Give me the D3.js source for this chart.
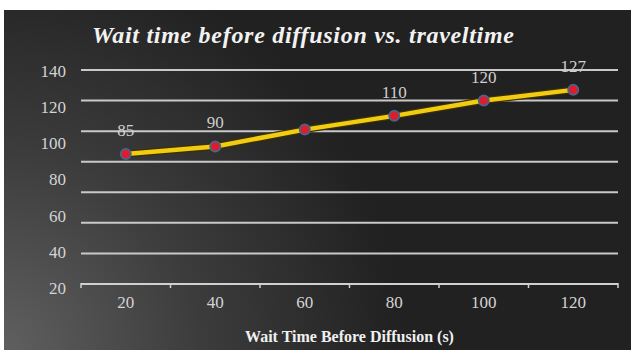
<!DOCTYPE html>
<html>
<head>
<meta charset="utf-8">
<script src="https://cdn.jsdelivr.net/npm/d3@7"></script>
<style>
  html, body { margin: 0; padding: 0; background: #ffffff; }
  svg { display: block; }
</style>
</head>
<body>
<svg id="chart" width="631" height="350"></svg>
<script>
// Wait time before diffusion (s) and the resulting travel time
const waitTimes = [20, 40, 60, 80, 100, 120];
const travelTimes = [85, 90, 101, 110, 120, 127];
const showValueLabel = [true, true, false, true, true, true];
const yTickLabels = ["140", "120", "100", "80", "60", "40", "20"];
const gridValues = [20, 40, 60, 80, 100, 120, 140];

const titleText = "Wait time before diffusion vs. traveltime";
const xTitleText = "Wait Time Before Diffusion (s)";

const W = 631, H = 350;
const plot = { left: 81, right: 618, top: 70, bottom: 284 };
const serif = "'Liberation Serif', 'Times New Roman', serif";

const svg = d3.select("#chart");

// Panel background: dark, lifting to grey towards the lower left
const defs = svg.append("defs");
const grad = defs.append("radialGradient")
  .attr("id", "bg")
  .attr("gradientUnits", "userSpaceOnUse")
  .attr("cx", 0).attr("cy", H).attr("r", 400);
grad.append("stop").attr("offset", "0%").attr("stop-color", "#606060");
grad.append("stop").attr("offset", "50%").attr("stop-color", "#3c3c3c");
grad.append("stop").attr("offset", "100%").attr("stop-color", "#212121");

svg.append("rect")
  .attr("x", 4).attr("y", 10)
  .attr("width", W - 4).attr("height", H - 10)
  .attr("fill", "url(#bg)");

// Scales
const x = d3.scaleBand()
  .domain(waitTimes)
  .range([plot.left, plot.right])
  .paddingInner(0).paddingOuter(0);

const y = d3.scaleLinear()
  .domain([0, 140])
  .range([plot.bottom, plot.top]);

// Tick labels on the value axis sit on their own even spacing
const yLabelPos = d3.scalePoint()
  .domain(yTickLabels)
  .range([71, 288]);

// Horizontal gridlines
svg.append("g")
  .selectAll("line")
  .data(gridValues)
  .join("line")
  .attr("x1", plot.left).attr("x2", plot.right)
  .attr("y1", d => y(d)).attr("y2", d => y(d))
  .attr("stroke", "#c9c9c9")
  .attr("stroke-width", 2);

// Category axis
const xAxis = d3.axisBottom(x).tickSize(0).tickPadding(12);
const gx = svg.append("g")
  .attr("transform", `translate(0,${plot.bottom})`)
  .call(xAxis);
gx.select(".domain").remove();
gx.selectAll("text")
  .attr("fill", "#d4d4d4")
  .attr("font-family", serif)
  .attr("font-size", 17);

svg.append("line")
  .attr("x1", plot.left).attr("x2", plot.right)
  .attr("y1", plot.bottom).attr("y2", plot.bottom)
  .attr("stroke", "#d0d0d0").attr("stroke-width", 2);

const boundaries = waitTimes.map(d => x(d)).concat([plot.right]);
svg.append("g")
  .selectAll("line")
  .data(boundaries)
  .join("line")
  .attr("x1", d => d).attr("x2", d => d)
  .attr("y1", plot.bottom - 1).attr("y2", plot.bottom + 4)
  .attr("stroke", "#d0d0d0").attr("stroke-width", 1.5);

// Value axis labels
svg.append("g")
  .selectAll("text")
  .data(yTickLabels)
  .join("text")
  .attr("x", 66)
  .attr("y", d => yLabelPos(d))
  .attr("dy", "0.35em")
  .attr("text-anchor", "end")
  .attr("fill", "#d4d4d4")
  .attr("font-family", serif)
  .attr("font-size", 17)
  .text(d => d);

// Series line
const pts = waitTimes.map((w, i) => ({ w, v: travelTimes[i], show: showValueLabel[i] }));
const line = d3.line()
  .x(d => x(d.w) + x.bandwidth() / 2)
  .y(d => y(d.v));

svg.append("path")
  .datum(pts)
  .attr("d", line)
  .attr("fill", "none")
  .attr("stroke", "#3b3000")
  .attr("stroke-width", 7)
  .attr("stroke-linejoin", "round");

svg.append("path")
  .datum(pts)
  .attr("d", line)
  .attr("fill", "none")
  .attr("stroke", "#f2cc12")
  .attr("stroke-width", 4.5)
  .attr("stroke-linejoin", "round");

// Markers
svg.append("g")
  .selectAll("circle")
  .data(pts)
  .join("circle")
  .attr("cx", d => x(d.w) + x.bandwidth() / 2)
  .attr("cy", d => y(d.v))
  .attr("r", 5)
  .attr("fill", "#e01c2c")
  .attr("stroke", "#4d6285")
  .attr("stroke-width", 2);

// Value labels
svg.append("g")
  .selectAll("text")
  .data(pts.filter(d => d.show))
  .join("text")
  .attr("x", d => x(d.w) + x.bandwidth() / 2)
  .attr("y", d => y(d.v) - 18)
  .attr("text-anchor", "middle")
  .attr("fill", "#cfcfcf")
  .attr("font-family", serif)
  .attr("font-size", 17)
  .text(d => d.v);

// Title
svg.append("text")
  .attr("x", 92)
  .attr("y", 43)
  .attr("fill", "#f2f2f2")
  .attr("font-family", serif)
  .attr("font-style", "italic")
  .attr("font-weight", "bold")
  .attr("font-size", 24)
  .attr("textLength", 422)
  .attr("lengthAdjust", "spacing")
  .text(titleText);

// Category axis title
svg.append("text")
  .attr("x", 349.5)
  .attr("y", 342)
  .attr("text-anchor", "middle")
  .attr("fill", "#f0f0f0")
  .attr("font-family", serif)
  .attr("font-weight", "bold")
  .attr("font-size", 16)
  .text(xTitleText);
</script>
</body>
</html>
